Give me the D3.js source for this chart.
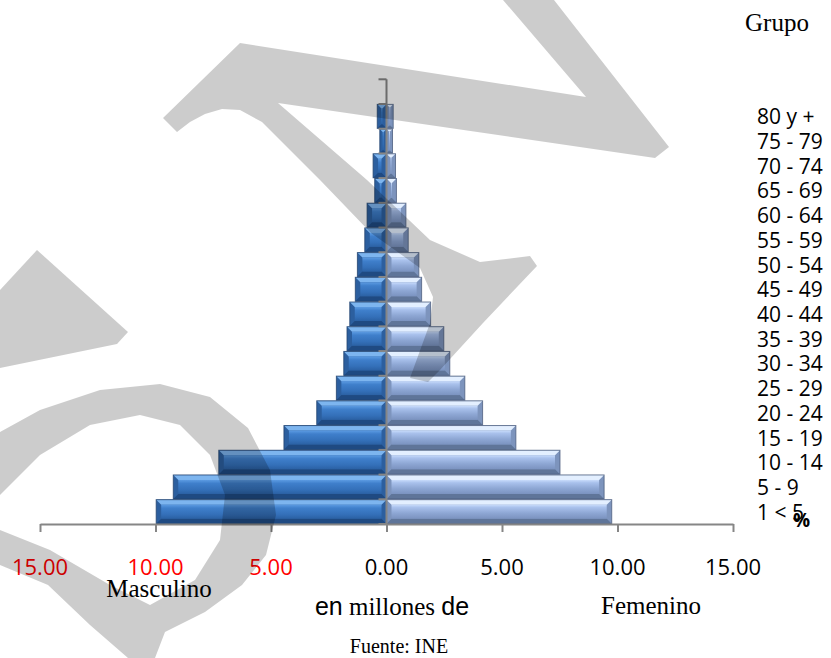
<!DOCTYPE html>
<html>
<head>
<meta charset="utf-8">
<script src="https://cdn.jsdelivr.net/npm/d3@7/dist/d3.min.js"></script>
<style>
  html, body { margin: 0; padding: 0; background: #fff; }
  svg { display: block; }
</style>
</head>
<body>
<div id="chart"></div>
<script>
// ---------- data ----------
const categories = ["1 < 5","5 - 9","10 - 14","15 - 19","20 - 24","25 - 29","30 - 34","35 - 39","40 - 44","45 - 49","50 - 54","55 - 59","60 - 64","65 - 69","70 - 74","75 - 79","80 y +"];
const masculino = [9.97, 9.23, 7.26, 4.44, 3.02, 2.17, 1.85, 1.71, 1.59, 1.35, 1.26, 0.94, 0.84, 0.51, 0.58, 0.29, 0.40];
const femenino  = [9.75, 9.42, 7.51, 5.60, 4.16, 3.39, 2.74, 2.48, 1.91, 1.52, 1.40, 0.94, 0.84, 0.43, 0.39, 0.26, 0.29];
const xTicks = [-15, -10, -5, 0, 5, 10, 15];

// ---------- setup ----------
const W = 831, H = 658;
const svg = d3.select("#chart").append("svg").attr("width", W).attr("height", H);
const defs = svg.append("defs");

const x = d3.scaleLinear().domain([-15, 15]).range([40, 733]);
const y = d3.scaleBand().domain(categories).range([524, 104]).paddingInner(0.03).paddingOuter(0.015);

function grad(id, stops) {
  const g = defs.append("linearGradient").attr("id", id).attr("x1", 0).attr("x2", 0).attr("y1", 0).attr("y2", 1);
  stops.forEach(s => g.append("stop").attr("offset", s[0]).attr("stop-color", s[1]));
}
grad("mFace", [[0, "#5c9be2"], [0.25, "#3f7fcb"], [0.7, "#3470b9"], [1, "#2b61a4"]]);
grad("fFace", [[0, "#c9dcfb"], [0.2, "#a9c1ec"], [0.6, "#8ea7d4"], [1, "#7b93c0"]]);

const styles = {
  m: { face: "url(#mFace)", top: "#7db5ef", bottom: "#1f4a82", side: "#2c5f9f", stroke: "#23446f" },
  f: { face: "url(#fFace)", top: "#e3efff", bottom: "#5f7599", side: "#7d94bd", stroke: "#4d5f80" }
};

function bevelBar(g, x0, x1, y0, h, st) {
  const y1 = y0 + h;
  const w = x1 - x0;
  const b = Math.max(1, Math.min(5, w / 2 - 0.5, h / 2 - 0.5));
  g.append("rect").attr("x", x0).attr("y", y0).attr("width", w).attr("height", h).attr("fill", st.side);
  g.append("path").attr("d", `M${x0},${y0}L${x1},${y0}L${x1-b},${y0+b}L${x0+b},${y0+b}Z`).attr("fill", st.top);
  g.append("path").attr("d", `M${x0},${y1}L${x1},${y1}L${x1-b},${y1-b}L${x0+b},${y1-b}Z`).attr("fill", st.bottom);
  g.append("rect").attr("x", x0 + b).attr("y", y0 + b).attr("width", Math.max(0, w - 2*b)).attr("height", h - 2*b).attr("fill", st.face);
  g.append("rect").attr("x", x0).attr("y", y0).attr("width", w).attr("height", h)
    .attr("fill", "none").attr("stroke", st.stroke).attr("stroke-width", 1).attr("stroke-opacity", 0.8);
}

// ---------- bars ----------
const bars = svg.append("g");
categories.forEach((c, i) => {
  const y0 = y(c), h = y.bandwidth();
  bevelBar(bars, x(-masculino[i]), x(0), y0, h, styles.m);
  bevelBar(bars, x(0), x(femenino[i]), y0, h, styles.f);
});

// ---------- axes ----------
const axisColor = "#868686";
const xAxis = svg.append("g").attr("transform", `translate(0,${y.range()[0]})`)
  .call(d3.axisBottom(x).tickValues(xTicks).tickSize(8).tickSizeOuter(0).tickFormat(""));
xAxis.select(".domain").attr("stroke", axisColor).attr("stroke-width", 2);
xAxis.selectAll(".tick line").attr("stroke", axisColor).attr("stroke-width", 2);

svg.append("g").selectAll("text").data(xTicks).join("text")
  .attr("x", d => x(d)).attr("y", 575)
  .attr("text-anchor", "middle")
  .attr("font-family", "'Open Sans', sans-serif").attr("font-size", 22)
  .attr("fill", d => d < 0 ? "#ff0000" : "#000")
  .text(d => Math.abs(d).toFixed(2));

// vertical axis
const yTop = y.range()[1] - y.step();
const yAxisG = svg.append("g");
yAxisG.append("line").attr("x1", x(0)).attr("x2", x(0)).attr("y1", yTop).attr("y2", y.range()[0])
  .attr("stroke", axisColor).attr("stroke-width", 2);
const boundaries = d3.range(categories.length + 2).map(k => y.range()[0] - k * y.step());
yAxisG.selectAll("line.t").data(boundaries).join("line").attr("class", "t")
  .attr("x1", x(0) - 8).attr("x2", x(0)).attr("y1", d => d).attr("y2", d => d)
  .attr("stroke", axisColor).attr("stroke-width", 2);

// category labels (right)
svg.append("g").selectAll("text").data(categories).join("text")
  .attr("x", 757).attr("y", d => y(d) + y.bandwidth() / 2 + 8)
  .attr("font-family", "'Open Sans', sans-serif").attr("font-size", 21)
  .attr("fill", "#000")
  .text(d => d);

svg.append("text").attr("x", 793).attr("y", 527)
  .attr("font-family", "'Open Sans', sans-serif").attr("font-size", 19).attr("font-weight", "bold")
  .text("%");

// titles
const serif = "'Liberation Serif', 'Times New Roman', serif";
const sans = "'Liberation Sans', Arial, sans-serif";
svg.append("text").attr("x", 777).attr("y", 31).attr("text-anchor", "middle")
  .attr("font-family", serif).attr("font-size", 25).text("Grupo");
svg.append("text").attr("x", 159).attr("y", 597).attr("text-anchor", "middle")
  .attr("font-family", serif).attr("font-size", 25).text("Masculino");
svg.append("text").attr("x", 651).attr("y", 614).attr("text-anchor", "middle")
  .attr("font-family", serif).attr("font-size", 25).text("Femenino");
const en = svg.append("text").attr("x", 392).attr("y", 615).attr("text-anchor", "middle").attr("font-size", 25);
en.append("tspan").attr("font-family", sans).text("en");
en.append("tspan").attr("font-family", serif).text(" millones ");
en.append("tspan").attr("font-family", sans).text("de");
svg.append("text").attr("x", 399).attr("y", 653).attr("text-anchor", "middle")
  .attr("font-family", serif).attr("font-size", 20).text("Fuente: INE");

// ---------- watermark (decorative overlay) ----------
const wm = svg.append("g").attr("fill", "#000").attr("fill-opacity", 0.2);
const wmPaths = [
  "M655,158L278,103L367,180L430,240L480,262L530,256L537,266L483,323L440,370L428,382L410,378L430,323L433,297L420,268L371,233L320,180L262,122L240,110L222,109L205,114L190,122L177,132L163,118L240,43L586,97L503,0L554,0L669,147Z",
  "M0,290L37,250L128,332L117,344L0,368Z",
  "M0,432L40,410L100,390L160,384L210,397L248,428L270,470L276,515L266,555L242,585L205,612L165,632L155,658L128,658L90,625L48,585L0,565L0,530L50,550L110,585L150,605L195,580L220,540L225,495L210,455L180,425L140,415L90,425L40,455L0,495Z"
];
wm.selectAll("path").data(wmPaths).join("path").attr("d", d => d);
</script>
</body>
</html>
